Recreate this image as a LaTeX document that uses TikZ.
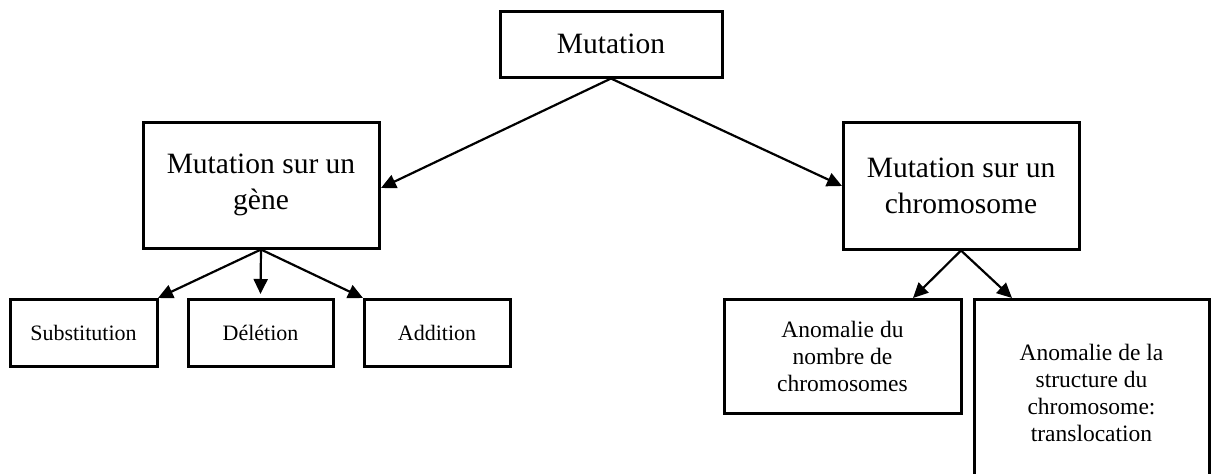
\documentclass[tikz,border=0pt]{standalone}
\usepackage{fontspec}
\setmainfont{Liberation Serif}
\usetikzlibrary{arrows.meta}
\begin{document}
\begin{tikzpicture}[x=1pt,y=-1pt,
  box/.style={draw=black,line width=3pt,rectangle,inner sep=0pt,align=center},
  bigtxt/.style={font=\fontsize{29.5}{36}\selectfont},
  smalltxt/.style={font=\fontsize{22}{27}\selectfont},
  midtxt/.style={font=\fontsize{23.5}{27}\selectfont},
  arr/.style={line width=2.2pt,-{Triangle[length=15pt,width=14pt]}}]
\useasboundingbox[fill=white] (0,0) rectangle (1211,474);
\node[box,bigtxt,minimum width=222pt,minimum height=66pt] (mut) at (611,44) {Mutation};
\node[box,bigtxt,minimum width=236pt,minimum height=126pt] (gene) at (261,185) {Mutation sur un\\gène};
\node[box,bigtxt,minimum width=236pt,minimum height=127pt] (chrom) at (961,185.5) {Mutation sur un\\chromosome};
\node[box,smalltxt,minimum width=147pt,minimum height=67pt] (sub) at (83.5,332.5) {Substitution};
\node[box,smalltxt,minimum width=145pt,minimum height=67pt] (del) at (260.5,332.5) {Délétion};
\node[box,smalltxt,minimum width=146pt,minimum height=67pt] (add) at (437,332.5) {Addition};
\node[box,midtxt,minimum width=237pt,minimum height=114pt] (nomb) at (842.5,356) {Anomalie du\\nombre de\\chromosomes};
\node[box,midtxt,minimum width=235pt,minimum height=188pt] (struct) at (1091.5,393) {Anomalie de la\\structure du\\chromosome:\\translocation};
\coordinate (gtip) at (381,188);
\coordinate (ctip) at (842,186);
\draw[arr] (mut.south) -- (gtip);
\draw[arr] (mut.south) -- (ctip);
\coordinate (stip) at (158,298);
\coordinate (dtip) at (260.5,294);
\coordinate (atip) at (363,298);
\draw[arr] (gene.south) -- (stip);
\draw[arr] (gene.south) -- (dtip);
\draw[arr] (gene.south) -- (atip);
\coordinate (ntip) at (913,298);
\coordinate (ttip) at (1012,298);
\draw[arr] (chrom.south) -- (ntip);
\draw[arr] (chrom.south) -- (ttip);
\end{tikzpicture}
\end{document}
